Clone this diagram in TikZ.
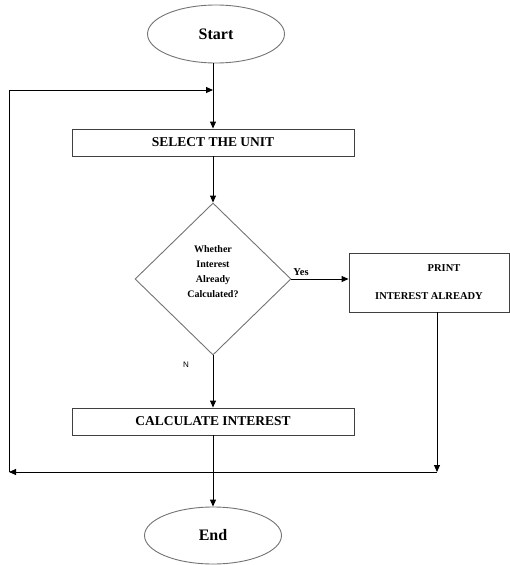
\documentclass[tikz,border=0pt]{standalone}
\usepackage{fontspec}
\setmainfont{Liberation Serif}
\newfontfamily\arialfont{Liberation Sans}
\usetikzlibrary{shapes.geometric,arrows.meta}
\tikzset{
  term/.style={ellipse,draw=black!55,line width=0.9pt,minimum width=137pt,minimum height=58pt,inner sep=0pt,font=\bfseries\fontsize{16}{19}\selectfont},
  procbox/.style={rectangle,draw=black!75,line width=0.9pt,minimum width=282pt,minimum height=27pt,inner sep=0pt,font=\bfseries\fontsize{13.5}{16}\selectfont},
  decision/.style={diamond,draw=black!55,line width=0.9pt,minimum width=156pt,minimum height=152pt,inner sep=0pt},
  dtext/.style={align=center,inner sep=0pt,font=\bfseries\fontsize{10}{15}\selectfont},
  conn/.style={draw=black,line width=0.9pt},
  arr/.style={conn,-{Triangle[length=7pt,width=6pt]}},
  lbl/.style={inner sep=0pt,font=\bfseries\fontsize{10.5}{13}\selectfont}
}
\begin{document}
\begin{tikzpicture}[x=1pt,y=-1pt]
\useasboundingbox (0,0) rectangle (510,565);
\node[term] (start) at (216,34) {Start};
\node[procbox] (sel) at (213,142.5) {SELECT THE UNIT};
\node[decision] (dia) at (213,279) {};
\node[dtext] (dt) at (213,271.5) {Whether\\Interest\\Already\\Calculated?};
\node[rectangle,draw=black!75,line width=0.9pt,minimum width=160pt,minimum height=59pt,inner sep=0pt,
      align=center,font=\bfseries\fontsize{10.5}{28}\selectfont] (pbox) at (429,282.5)
      {\hspace*{30pt}PRINT\\INTEREST ALREADY};
\node[procbox] (calc) at (213,421.5) {CALCULATE INTEREST};
\node[term,minimum width=137pt,minimum height=57pt] (end) at (213,535.5) {End};
\node[lbl] (yes) at (301,272) {Yes};
\node[inner sep=0pt,font=\arialfont\fontsize{8}{10}\selectfont] (nl) at (186,365) {N};

\coordinate (j) at (213,90);
\coordinate (tl) at (9,90);
\coordinate (bl) at (9,472);
\coordinate (br) at (437,472);

\draw[arr] (start.south -| sel.north) -- (sel.north);
\draw[arr] (tl) -- (j);
\draw[arr] (sel.south) -- (dia.north);
\draw[arr] (dia.east) -- (dia.east -| pbox.west);
\draw[arr] (dia.south) -- (calc.north);
\draw[arr] (calc.south) -- (end.north);
\draw[arr] (pbox.south -| br) -- (br);
\draw[arr] (br) -- (bl);
\draw[conn] (bl) -- ([yshift=-1pt]tl);
\end{tikzpicture}
\end{document}
